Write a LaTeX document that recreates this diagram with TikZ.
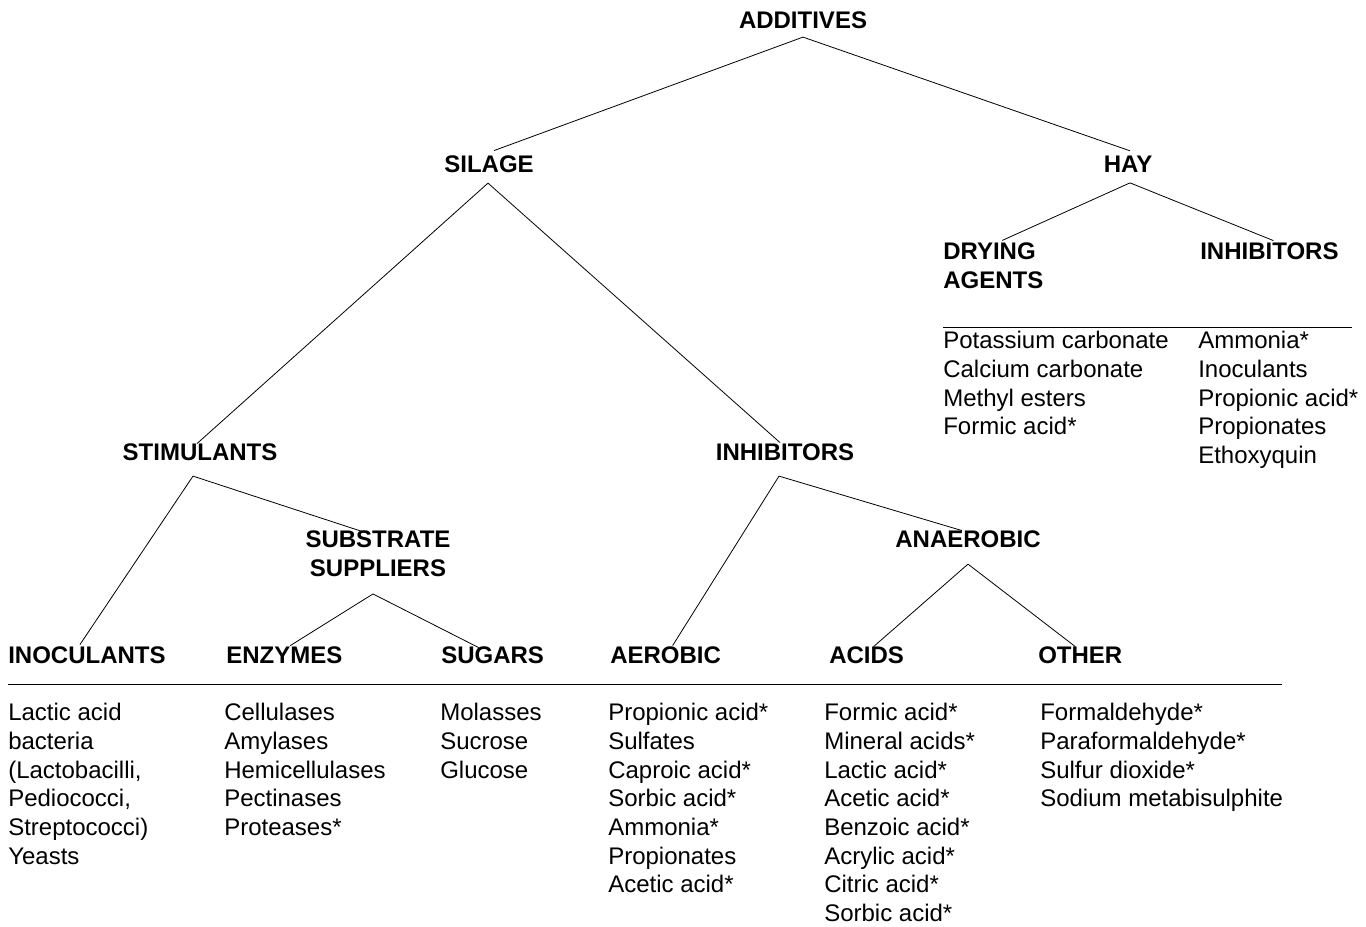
\documentclass[tikz,border=0pt]{standalone}
\usepackage{fontspec}
\setmainfont{Liberation Sans}
\usetikzlibrary{positioning,calc}

\begin{document}
\begin{tikzpicture}[x=0.75pt,y=-0.75pt,
  head/.style={font=\fontsize{18}{21.75}\selectfont\bfseries,inner sep=0pt,align=left},
  items/.style={font=\fontsize{18}{21.5}\selectfont,inner sep=0pt,align=left,anchor=north west},
  branch/.style={draw,line width=0.6pt},
  rule/.style={draw,line width=0.6pt}
]
\useasboundingbox (0,0) rectangle (1366,926);

% Top levels
\node[head,anchor=base] (add) at (803,28.6) {ADDITIVES};
\node[head,anchor=base] (silage) at (489,172.6) {SILAGE};
\node[head,anchor=base] (hay) at (1128,172.6) {HAY};

% Silage branches
\node[head,anchor=base] (stim) at (200,460.6) {STIMULANTS};
\node[head,anchor=base] (inh) at (785,460.6) {INHIBITORS};
\node[head,anchor=north,align=center] (subst) at (378,530.4) {SUBSTRATE\\SUPPLIERS};
\node[head,anchor=base] (anaer) at (968,547.6) {ANAEROBIC};

% Hay branches
\node[head,anchor=north west] (dry) at (943,242.4) {DRYING\\AGENTS};
\node[head,anchor=base west] (hinh) at (1200,259.6) {INHIBITORS};

% Bottom categories
\node[head,anchor=base west] (inoc) at (8,663.6) {INOCULANTS};
\node[head,anchor=base west] (enz) at (226,663.6) {ENZYMES};
\node[head,anchor=base west] (sug) at (441,663.6) {SUGARS};
\node[head,anchor=base west] (aer) at (610,663.6) {AEROBIC};
\node[head,anchor=base west] (acids) at (829,663.6) {ACIDS};
\node[head,anchor=base west] (other) at (1038,663.6) {OTHER};

% Connectors
\draw[branch] ($(add.south)+(0,8)$) -- ($(silage.north)+(5,-5)$);
\draw[branch] ($(add.south)+(0,8)$) -- ($(hay.north)+(2,-5)$);
\draw[branch] ($(silage.south)+(-1,10)$) -- ($(stim.north)+(-3,0)$);
\draw[branch] ($(silage.south)+(-1,10)$) -- ($(inh.north)+(-5,-1)$);
\draw[branch] ($(hay.south)+(2,10)$) -- ($(dry.north)+(9,-2)$);
\draw[branch] ($(hay.south)+(2,10)$) -- ($(hinh.north)+(4,-2)$);
\draw[branch] ($(stim.south)+(-7,15)$) -- ($(inoc.north)+(-7,-2)$);
\draw[branch] ($(stim.south)+(-7,15)$) -- ($(subst.north)+(-10,3)$);
\draw[branch] ($(subst.south)+(-5,17)$) -- ($(enz.north)+(6,-1)$);
\draw[branch] ($(subst.south)+(-5,17)$) -- ($(sug.north)+(-14,1)$);
\draw[branch] ($(inh.south)+(-6,15)$) -- ($(aer.north)+(7,-1)$);
\draw[branch] ($(inh.south)+(-6,15)$) -- ($(anaer.north)+(-6,0)$);
\draw[branch] ($(anaer.south)+(0,16)$) -- ($(acids.north)+(7,0)$);
\draw[branch] ($(anaer.south)+(0,16)$) -- ($(other.north)+(-5,0)$);

% Rules
\draw[rule] (943,327) -- (1352,327);
\draw[rule] (8,684) -- (1282,684);

% Hay lists
\node[items] (dryL) at (943,331) {Potassium carbonate\\Calcium carbonate\\Methyl esters\\Formic acid*};
\node[items] (hinhL) at (1198,331) {Ammonia*\\Inoculants\\Propionic acid*\\Propionates\\Ethoxyquin};

% Silage lists
\node[items] (inocL) at (8,703) {Lactic acid\\bacteria\\(Lactobacilli,\\Pediococci,\\Streptococci)\\Yeasts};
\node[items] (enzL) at (224,703) {Cellulases\\Amylases\\Hemicellulases\\Pectinases\\Proteases*};
\node[items] (sugL) at (440,703) {Molasses\\Sucrose\\Glucose};
\node[items] (aerL) at (608,703) {Propionic acid*\\Sulfates\\Caproic acid*\\Sorbic acid*\\Ammonia*\\Propionates\\Acetic acid*};
\node[items] (acidsL) at (824,703) {Formic acid*\\Mineral acids*\\Lactic acid*\\Acetic acid*\\Benzoic acid*\\Acrylic acid*\\Citric acid*\\Sorbic acid*};
\node[items] (otherL) at (1040,703) {Formaldehyde*\\Paraformaldehyde*\\Sulfur dioxide*\\Sodium metabisulphite};

\end{tikzpicture}
\end{document}
